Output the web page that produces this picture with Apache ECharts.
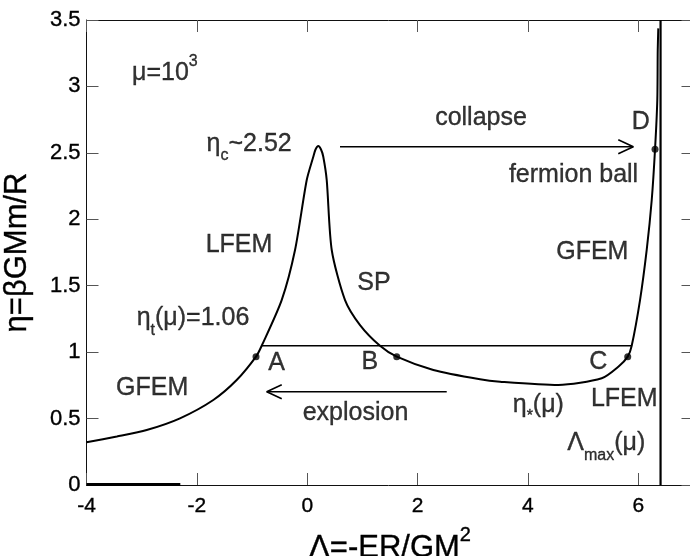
<!DOCTYPE html>
<html><head><meta charset="utf-8">
<script src="https://cdn.jsdelivr.net/npm/echarts@6/dist/echarts.min.js"></script>
<style>html,body{margin:0;padding:0;background:#fff}#c{width:690px;height:556px}</style>
</head><body><div id="c"></div>
<script>
// ---- data (Λ, η) ----
const mainCurve = [
  [-4.0,0.321],[-3.45,0.365],[-2.909,0.414],[-2.306,0.502],[-1.702,0.640],[-1.278,0.790],
  [-0.928,0.966],[-0.825,1.048],[-0.463,1.392],[-0.221,1.769],[-0.009,2.296],[0.110,2.471],
  [0.15,2.525],[0.201,2.552],[0.25,2.525],[0.291,2.471],[0.353,2.296],[0.444,1.769],
  [0.685,1.392],[0.957,1.204],[1.319,1.048],[1.622,0.966],[2.285,0.866],[3.131,0.796],
  [3.494,0.778],[4.550,0.753],[5.337,0.803],[5.638,0.890],[5.808,0.966],[5.880,1.048],
  [6.031,1.392],[6.152,1.769],[6.243,2.145],[6.303,2.527],[6.344,2.898],[6.352,3.274],[6.362,3.437]
];
const bottomBranch = [[-4.0,0.004],[-2.30,0.004]];
const etaT = 1.048;
const tieLine = [[-0.825,etaT],[5.880,etaT]];
const lambdaMax = 6.403;
const lambdaMaxLine = [[lambdaMax,0],[lambdaMax,3.5]];
const pointsABCD = [[-0.928,0.966],[1.622,0.966],[5.808,0.966],[6.303,2.527]];
const collapseArrow = [[0.594,2.546],[5.909,2.546]];
const collapseHead = [[5.637,2.599],[5.909,2.546],[5.637,2.493]];
const explosionArrow = [[2.528,0.702],[-0.734,0.702]];
const explosionHead = [[-0.462,0.755],[-0.734,0.702],[-0.462,0.649]];
const xRange = [-4, 7];
const yRange = [0, 3.5];
const xInterval = 2;
const yInterval = 0.5;
const xTitle = '{n|Λ=-ER/GM}{sup|2}';
const yTitle = 'η=βGMm/R';
const annotations = [
  ['{n|μ=10}{sup|3}', -3.175, 3.10, 'left'],
  ['{n|η}{sub|c}{n|~2.52}', -0.281, 2.566, 'right'],
  ['{n|collapse}', 3.149, 2.760, 'center'],
  ['{n|D}', 6.045, 2.728, 'center'],
  ['{n|fermion ball}', 4.826, 2.331, 'center'],
  ['{n|GFEM}', 5.166, 1.754, 'center'],
  ['{n|LFEM}', -1.236, 1.806, 'center'],
  ['{n|SP}', 1.21, 1.52, 'center'],
  ['{n|η}{sub|t}{n|(μ)=1.06}', -1.05, 1.255, 'right'],
  ['{n|A}', -0.553, 0.920, 'center'],
  ['{n|B}', 1.134, 0.926, 'center'],
  ['{n|C}', 5.275, 0.926, 'center'],
  ['{n|explosion}', 0.875, 0.540, 'center'],
  ['{n|GFEM}', -2.81, 0.729, 'center'],
  ['{n|η}{sub|*}{n|(μ)}', 4.188, 0.602, 'center'],
  ['{n|LFEM}', 5.745, 0.650, 'center'],
  ['{n|Λ}{sub|max}{n|(μ)}', 4.712, 0.314, 'left']
];

// ---- chart ----
const FONT = 'Liberation Sans, Arial, Helvetica, sans-serif';
const ink = {color: '#000', textBorderColor: '#000', textBorderWidth: 0.35};
const rich = {
  n: Object.assign({fontSize: 25, fontFamily: FONT, lineHeight: 40}, ink),
  sub: Object.assign({fontSize: 16, fontFamily: FONT, lineHeight: 16, verticalAlign: 'bottom'}, ink),
  sup: Object.assign({fontSize: 16, fontFamily: FONT, lineHeight: 16, verticalAlign: 'top'}, ink)
};
const chart = echarts.init(document.getElementById('c'), null, {renderer: 'canvas'});
const axisLine = {show: true, onZero: false, lineStyle: {color: '#111', width: 1}};
const tick = {show: true, inside: true, length: 12, lineStyle: {color: '#555', width: 1}};
const lineS = (data, w, extra) => Object.assign({
  type: 'line', data: data, showSymbol: false, symbol: 'none', silent: true,
  lineStyle: {color: '#000', width: w}, z: 3
}, extra || {});

chart.setOption({
  animation: false,
  backgroundColor: '#fff',
  grid: {left: 86.5, top: 20, width: 607, height: 465, containLabel: false, outerBoundsMode: 'none'},
  xAxis: [
    {type: 'value', min: xRange[0], max: xRange[1], interval: xInterval, position: 'bottom',
     axisLine: axisLine, axisTick: tick, splitLine: {show: false},
     axisLabel: Object.assign({fontSize: 21, fontFamily: FONT, margin: 11, showMaxLabel: false}, ink),
     name: xTitle, nameLocation: 'middle', nameGap: 40,
     nameTextStyle: {rich: {n: Object.assign({fontSize: 31, fontFamily: FONT, lineHeight: 46}, ink), sup: Object.assign({fontSize: 20, fontFamily: FONT, verticalAlign: 'top', lineHeight: 20}, ink)}}},
    {type: 'value', min: xRange[0], max: xRange[1], interval: xInterval, position: 'top',
     axisLine: axisLine, axisTick: tick, axisLabel: {show: false}, splitLine: {show: false}}
  ],
  yAxis: [
    {type: 'value', min: yRange[0], max: yRange[1], interval: yInterval, position: 'left',
     axisLine: axisLine, axisTick: tick, splitLine: {show: false},
     axisLabel: Object.assign({fontSize: 22, fontFamily: FONT, margin: 6}, ink),
     name: yTitle, nameLocation: 'middle', nameGap: 54,
     nameTextStyle: Object.assign({fontSize: 31, fontFamily: FONT}, ink)},
    {type: 'value', min: yRange[0], max: yRange[1], interval: yInterval, position: 'right',
     axisLine: axisLine, axisTick: tick, axisLabel: {show: false}, splitLine: {show: false}}
  ],
  series: [
    lineS(mainCurve, 2, {smooth: 0.25}),
    lineS(bottomBranch, 3),
    lineS(tieLine, 1.6),
    lineS(lambdaMaxLine, 2.2),
    lineS(collapseArrow, 1.6),
    lineS(collapseHead, 1.6),
    lineS(explosionArrow, 1.6),
    lineS(explosionHead, 1.6),
    {type: 'scatter', data: pointsABCD, symbol: 'circle', symbolSize: 7, silent: true,
     itemStyle: {color: '#000'}, z: 5},
    {type: 'scatter', symbolSize: 0, silent: true, z: 6,
     data: annotations.map(a => ({
       value: [a[1], a[2]],
       label: Object.assign({show: true, formatter: a[0], rich: rich,
         position: a[3] === 'left' ? 'right' : (a[3] === 'right' ? 'left' : 'inside'),
         distance: 0}, ink)
     }))}
  ]
});
</script></body></html>
